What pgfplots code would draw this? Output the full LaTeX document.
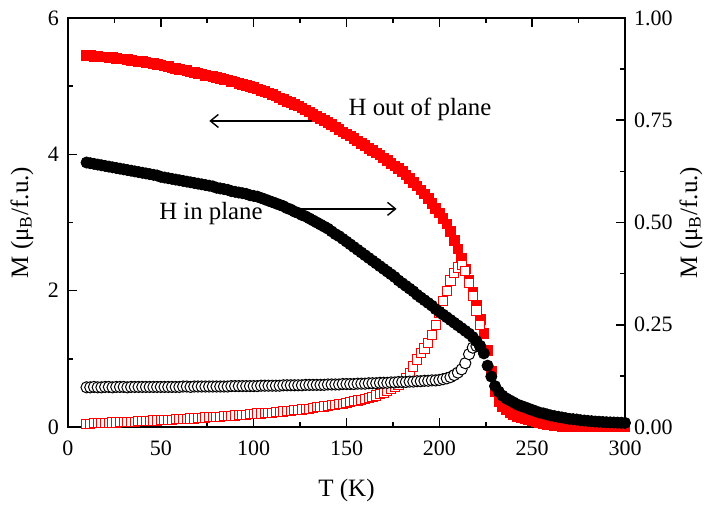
\documentclass[border=0pt]{standalone}
\usepackage{fontspec}
\setmainfont{Liberation Serif}
\usepackage{pgfplots}
\pgfplotsset{compat=1.18}
\usepackage{pgfplotstable}
\usetikzlibrary{arrows.meta}

% H out of plane, left scale
\pgfplotstableread{
T M
10 5.45
12 5.45
14 5.44
16 5.44
18 5.43
20 5.43
22 5.42
24 5.42
26 5.41
28 5.40
30 5.40
32 5.39
34 5.38
36 5.37
38 5.36
40 5.36
42 5.35
44 5.34
46 5.33
48 5.32
50 5.31
52 5.30
54 5.29
56 5.27
58 5.26
60 5.25
62 5.24
64 5.23
66 5.21
68 5.20
70 5.19
72 5.18
74 5.16
76 5.15
78 5.14
80 5.13
82 5.11
84 5.10
86 5.09
88 5.07
90 5.06
92 5.04
94 5.03
96 5.01
98 5.00
100 4.98
102 4.96
104 4.94
106 4.92
108 4.90
110 4.88
112 4.86
114 4.83
116 4.81
118 4.78
120 4.76
122 4.73
124 4.71
126 4.68
128 4.65
130 4.62
132 4.59
134 4.56
136 4.53
138 4.50
140 4.47
142 4.44
144 4.40
146 4.37
148 4.33
150 4.30
152 4.27
154 4.23
156 4.20
158 4.16
160 4.13
162 4.09
164 4.06
166 4.02
168 3.99
170 3.95
172 3.91
174 3.87
176 3.83
178 3.79
180 3.75
182 3.70
184 3.65
186 3.59
188 3.54
190 3.48
192 3.42
194 3.35
196 3.28
198 3.21
200 3.14
202 3.06
204 2.98
206 2.87
208 2.74
210 2.61
212 2.47
214 2.32
216 2.16
218 1.98
220 1.79
222 1.58
224 1.37
226 1.12
228 0.82
230 0.52
232 0.38
234 0.30
236 0.25
238 0.21
240 0.18
242 0.16
244 0.14
246 0.12
248 0.11
250 0.09
252 0.08
254 0.065
256 0.05
258 0.04
260 0.03
262 0.02
264 0.015
266 0.012
268 0.010
270 0.008
272 0.007
274 0.006
276 0.006
278 0.005
280 0.005
282 0.004
284 0.004
286 0.004
288 0.003
290 0.003
292 0.003
294 0.002
296 0.002
298 0.002
300 0.002
}\outplane

% H in plane, left scale
\pgfplotstableread{
T M
10 3.88
12 3.87
14 3.86
16 3.85
18 3.84
20 3.83
22 3.82
24 3.81
26 3.80
28 3.79
30 3.78
32 3.77
34 3.76
36 3.75
38 3.74
40 3.73
42 3.72
44 3.71
46 3.70
48 3.69
50 3.67
52 3.66
54 3.65
56 3.64
58 3.63
60 3.62
62 3.61
64 3.60
66 3.59
68 3.58
70 3.57
72 3.56
74 3.55
76 3.54
78 3.53
80 3.51
82 3.50
84 3.49
86 3.48
88 3.46
90 3.45
92 3.44
94 3.43
96 3.42
98 3.40
100 3.39
102 3.38
104 3.36
106 3.34
108 3.32
110 3.30
112 3.28
114 3.26
116 3.24
118 3.21
120 3.19
122 3.16
124 3.14
126 3.11
128 3.09
130 3.06
132 3.03
134 3.00
136 2.97
138 2.94
140 2.91
142 2.87
144 2.83
146 2.80
148 2.76
150 2.72
152 2.68
154 2.64
156 2.60
158 2.56
160 2.52
162 2.48
164 2.44
166 2.40
168 2.36
170 2.32
172 2.28
174 2.24
176 2.20
178 2.15
180 2.11
182 2.07
184 2.03
186 1.99
188 1.94
190 1.90
192 1.86
194 1.82
196 1.78
198 1.73
200 1.69
202 1.65
204 1.61
206 1.57
208 1.53
210 1.49
212 1.45
214 1.41
216 1.37
218 1.32
220 1.26
222 1.19
224 1.08
226 0.90
228 0.74
230 0.60
232 0.52
234 0.46
236 0.42
238 0.39
240 0.36
242 0.33
244 0.31
246 0.29
248 0.27
250 0.25
252 0.23
254 0.21
256 0.20
258 0.185
260 0.17
262 0.16
264 0.15
266 0.14
268 0.13
270 0.12
272 0.115
274 0.11
276 0.10
278 0.095
280 0.09
282 0.085
284 0.08
286 0.077
288 0.074
290 0.07
292 0.068
294 0.066
296 0.064
298 0.062
300 0.06
}\inplane

% open squares, right scale
\pgfplotstableread{
T M
10 0.008
12 0.008
14 0.009
16 0.009
18 0.010
20 0.010
22 0.010
24 0.011
26 0.011
28 0.012
30 0.012
32 0.012
34 0.013
36 0.013
38 0.014
40 0.014
42 0.015
44 0.015
46 0.016
48 0.016
50 0.017
52 0.017
54 0.018
56 0.018
58 0.019
60 0.019
62 0.020
64 0.020
66 0.021
68 0.021
70 0.022
72 0.022
74 0.023
76 0.024
78 0.024
80 0.025
82 0.025
84 0.026
86 0.027
88 0.027
90 0.028
92 0.029
94 0.030
96 0.030
98 0.031
100 0.032
102 0.033
104 0.033
106 0.034
108 0.035
110 0.035
112 0.036
114 0.037
116 0.038
118 0.039
120 0.040
122 0.041
124 0.042
126 0.043
128 0.044
130 0.045
132 0.046
134 0.048
136 0.049
138 0.050
140 0.052
142 0.053
144 0.054
146 0.056
148 0.057
150 0.059
152 0.061
154 0.063
156 0.065
158 0.067
160 0.069
162 0.071
164 0.074
166 0.077
168 0.080
170 0.084
172 0.088
174 0.092
176 0.097
178 0.102
180 0.110
182 0.120
184 0.132
186 0.148
188 0.165
190 0.180
192 0.192
194 0.205
196 0.225
198 0.250
200 0.280
202 0.308
204 0.333
206 0.358
208 0.377
210 0.390
212 0.396
214 0.382
216 0.352
218 0.320
220 0.285
222 0.250
}\outopen

% open circles, right scale
\pgfplotstableread{
T M
10 0.097
12 0.097
14 0.098
16 0.097
18 0.097
20 0.098
22 0.098
24 0.097
26 0.098
28 0.098
30 0.098
32 0.097
34 0.098
36 0.098
38 0.098
40 0.098
42 0.098
44 0.098
46 0.098
48 0.098
50 0.098
52 0.098
54 0.098
56 0.098
58 0.098
60 0.098
62 0.099
64 0.099
66 0.098
68 0.099
70 0.099
72 0.099
74 0.099
76 0.099
78 0.099
80 0.099
82 0.099
84 0.099
86 0.099
88 0.100
90 0.100
92 0.100
94 0.100
96 0.100
98 0.100
100 0.100
102 0.100
104 0.101
106 0.101
108 0.101
110 0.101
112 0.101
114 0.101
116 0.102
118 0.102
120 0.102
122 0.102
124 0.102
126 0.102
128 0.103
130 0.103
132 0.103
134 0.103
136 0.103
138 0.103
140 0.104
142 0.104
144 0.104
146 0.104
148 0.105
150 0.105
152 0.105
154 0.105
156 0.106
158 0.106
160 0.106
162 0.107
164 0.107
166 0.107
168 0.108
170 0.108
172 0.108
174 0.109
176 0.109
178 0.110
180 0.110
182 0.110
184 0.111
186 0.111
188 0.112
190 0.112
192 0.113
194 0.113
196 0.114
198 0.114
200 0.115
202 0.117
204 0.119
206 0.122
208 0.127
210 0.133
212 0.141
214 0.156
216 0.178
218 0.194
220 0.198
222 0.196
}\inopen

\newcommand{\tickfont}{\fontsize{11}{13}\selectfont}
\newcommand{\labfont}{\fontsize{12.5}{14}\selectfont}

\pgfplotsset{
  common/.style={
    at={(0,0)}, anchor=south west,
    scale only axis, width=278.5pt, height=204.5pt,
    xmin=0, xmax=300,
    tick align=inside,
    major tick length=4.5pt, minor tick length=2.5pt,
    axis line style={line width=0.8pt},
    every tick/.append style={black, line width=0.8pt},
    every minor tick/.append style={black, line width=0.8pt},
    tick label style={font=\tickfont},
    /pgf/number format/assume math mode=true,
  },
}

\begin{document}
\begin{tikzpicture}
\path[use as bounding box] (-34pt,-39pt) rectangle (322pt,213.5pt);

% left scale: red filled
\begin{axis}[common,
  ymin=0, ymax=6,
  xtick={0,50,...,300}, ytick={0,2,4,6},
  minor x tick num=1, minor y tick num=1,
  ytick pos=left,
  xticklabel style={yshift=-3.5pt},
  yticklabel style={xshift=-1pt},
  xlabel={T (K)},
  ylabel={M (μ\textsubscript{B}/f.u.)},
  every axis x label/.style={at={(axis description cs:0.5,-0.154)}, anchor=center, font=\labfont},
  every axis y label/.style={at={(axis description cs:-0.0826,0.5)}, rotate=90, anchor=center, font=\labfont},
]
\addplot[only marks, mark=square*, mark size=2.4pt, color=red] table[x=T, y=M] {\outplane};
\node[font=\fontsize{12.4}{14}\selectfont, anchor=base] at (axis cs:189.6,4.577) {H out of plane};
\node[font=\fontsize{12.4}{14}\selectfont, anchor=base] at (axis cs:77,3.04) {H in plane};
\draw[line width=0.7pt, -{Straight Barb[length=4pt,width=6.5pt,line width=0.7pt]}] (axis cs:134,4.49) -- (axis cs:76.1,4.49);
\draw[line width=0.7pt, -{Straight Barb[length=4pt,width=6.5pt,line width=0.7pt]}] (axis cs:123.1,3.20) -- (axis cs:177,3.20);
\end{axis}

% right scale: open symbols
\begin{axis}[common,
  ymin=0, ymax=1,
  axis x line=none,
  axis y line*=right,
  ytick={0,0.25,0.5,0.75,1},
  minor y tick num=1,
  yticklabel style={xshift=1pt, /pgf/number format/.cd, fixed, fixed zerofill, precision=2},
  ylabel={M (μ\textsubscript{B}/f.u.)},
  every axis y label/.style={at={(axis description cs:1.1185,0.5)}, rotate=90, anchor=center, font=\labfont},
]
\addplot[only marks, mark=square*, mark size=2.3pt, draw=red, fill=white, line width=0.5pt] table[x=T, y=M] {\outopen};
\addplot[only marks, mark=*, mark size=2.8pt, draw=black, fill=white, line width=0.5pt] table[x=T, y=M] {\inopen};
\end{axis}

% left scale again: black filled on top
\begin{axis}[common, ymin=0, ymax=6, hide axis]
\addplot[only marks, mark=*, mark size=2.8pt, color=black] table[x=T, y=M] {\inplane};
\end{axis}
\end{tikzpicture}
\end{document}
